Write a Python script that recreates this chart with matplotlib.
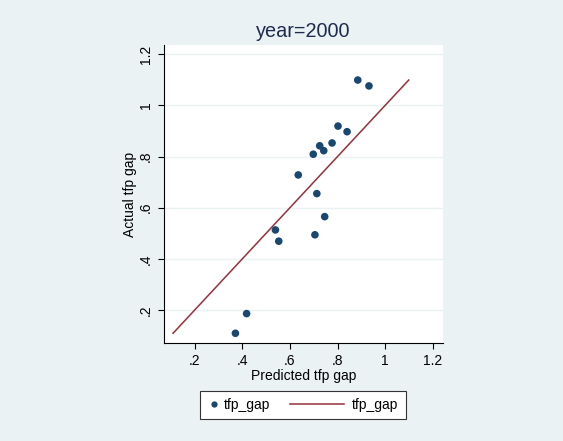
import numpy as np
import matplotlib
matplotlib.use("Agg")
import matplotlib.pyplot as plt
from matplotlib.lines import Line2D
from matplotlib.legend_handler import HandlerLine2D

# ---- data ----
predicted = [0.885, 0.932, 0.802, 0.840, 0.777, 0.725, 0.742, 0.698,
             0.635, 0.713, 0.746, 0.539, 0.705, 0.553, 0.418, 0.371]
actual = [1.099, 1.076, 0.919, 0.897, 0.853, 0.842, 0.823, 0.809,
          0.728, 0.655, 0.565, 0.513, 0.494, 0.469, 0.186, 0.109]
title = "year=2000"
xlabel = "Predicted tfp gap"
ylabel = "Actual tfp gap"
xticks = [0.2, 0.4, 0.6, 0.8, 1.0, 1.2]
yticks = [0.2, 0.4, 0.6, 0.8, 1.0, 1.2]
xticklabels = [".2", ".4", ".6", ".8", "1", "1.2"]
yticklabels = [".2", ".4", ".6", ".8", "1", "1.2"]
legend_labels = ["tfp_gap", "tfp_gap"]

# ---- style ----
BG = "#eaf2f3"
NAVY = "#1a476f"
MAROON = "#96303a"
TITLE_C = "#1e2b4f"
plt.rcParams['font.family'] = ['Liberation Sans', 'DejaVu Sans']

fig = plt.figure(figsize=(5.63, 4.41), dpi=100, facecolor=BG)
ax = fig.add_axes([164/563, 1-343/441, (443-164)/563, (343-45)/441])
ax.set_facecolor("white")

# line of actual vs actual (45-degree line over range of actual)
act_sorted = np.sort(np.array(actual))
ax.plot(act_sorted, act_sorted, color=MAROON, lw=1.1, zorder=2)
ax.scatter(predicted, actual, s=30, color=NAVY, edgecolors='none', zorder=3)

ax.set_xlim(0.071, 1.243)
ax.set_ylim(0.071, 1.236)
ax.set_xticks(xticks)
ax.set_xticklabels(xticklabels)
ax.set_yticks(yticks)
ax.set_yticklabels(yticklabels, rotation=90, va='center')

for s in ['top', 'right']:
    ax.spines[s].set_visible(False)
for s in ['left', 'bottom']:
    ax.spines[s].set_color('black')
    ax.spines[s].set_linewidth(0.8)

ax.tick_params(axis='both', direction='out', length=4.3, width=0.8,
               color='black', labelsize=10, labelcolor='black')
ax.tick_params(axis='x', pad=3.5)
ax.tick_params(axis='y', pad=3.5)
ax.yaxis.grid(True, color=BG, lw=1.0)
ax.set_axisbelow(True)

ax.set_title(title, fontsize=14.3, color=TITLE_C, pad=6)
ax.set_xlabel(xlabel, fontsize=10, color='black')
ax.set_ylabel(ylabel, fontsize=10, color='black')
ax.xaxis.set_label_coords(0.5, -0.087)
ax.yaxis.set_label_coords(-0.095, 0.5)


class LongLineHandler(HandlerLine2D):
    def get_xdata(self, legend, xdescent, ydescent, width, height, fontsize):
        x0 = -xdescent + width - 3.7
        xd = np.array([x0 - 38.9, x0])
        return xd, xd


h1 = Line2D([], [], marker='o', ls='none', color=NAVY, markersize=4.5,
            markeredgewidth=0)
h2 = Line2D([], [], color=MAROON, lw=1.1)
leg = fig.legend([h1, h2], legend_labels, loc='center',
                 bbox_to_anchor=(303/563, 1-405/441), ncol=2,
                 fontsize=10, frameon=True, fancybox=False,
                 edgecolor='#333333', facecolor='white', framealpha=1,
                 handlelength=1.0, handletextpad=0.2, columnspacing=4.7,
                 borderpad=0.5, handler_map={h2: LongLineHandler()})
leg.get_frame().set_linewidth(0.8)

fig.savefig("out.png", dpi=100, facecolor=BG)
